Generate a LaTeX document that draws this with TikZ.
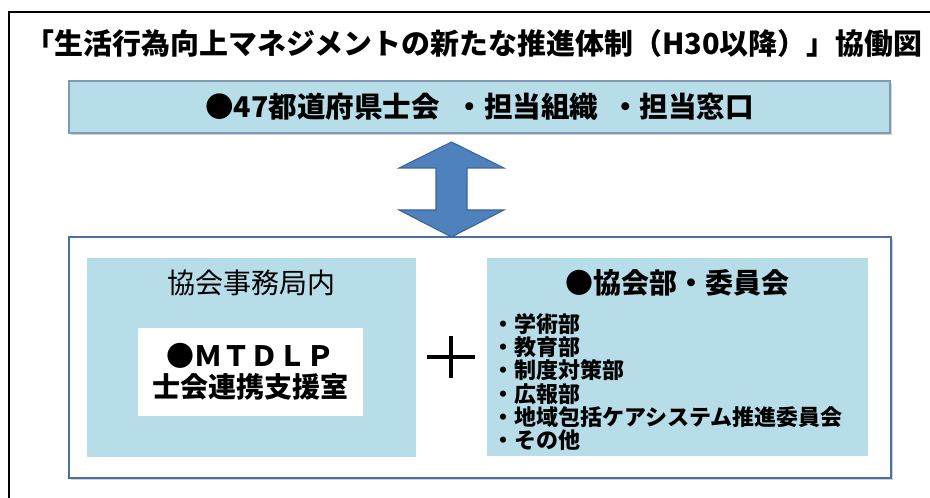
\documentclass[tikz,border=0pt]{standalone}
\usepackage{fontspec}
\newfontfamily\jp{Noto Sans CJK JP}
\usetikzlibrary{shadows}
\definecolor{paleblue}{HTML}{B7DDE8}
\definecolor{boxedge}{HTML}{7F9AB5}
\definecolor{teamedge}{HTML}{4A6FA0}
\definecolor{arrowfill}{HTML}{4F81BD}
\definecolor{arrowedge}{HTML}{3A66A0}
\tikzset{%
  boxshadow/.style = {drop shadow={opacity=0.35, shadow xshift=1.2pt, shadow yshift=-1.5pt}},%
  prefbox/.style   = {draw=boxedge, fill=paleblue, line width=0.8pt, boxshadow,%
                      inner sep=0pt, font=\jp\bfseries\fontsize{21.4}{24}\selectfont},%
  teambox/.style   = {draw=teamedge, fill=white, line width=1.5pt, boxshadow, inner sep=0pt},%
  pane/.style      = {fill=paleblue, inner sep=0pt},%
  whitepane/.style = {fill=white, inner sep=0pt, align=center,%
                      font=\jp\bfseries\fontsize{21}{23.5}\selectfont},%
  heading/.style   = {font=\jp\fontsize{21}{24}\selectfont, inner sep=0pt},%
  listing/.style   = {font=\jp\bfseries\fontsize{16.5}{17.4}\selectfont, align=left, inner sep=0pt}%
}
\begin{document}
\begin{tikzpicture}[x=0.75pt,y=-0.75pt]
  \useasboundingbox (0,0) rectangle (930,498);
  \draw [line width=1.2pt] (9,502) -- (9,12) -- (934,12);
  \node [heading, font=\jp\bfseries\fontsize{21.7}{24}\selectfont] (title) at (474,44)
    {「生活行為向上マネジメントの新たな推進体制（H30以降）」協働図};
  \node [prefbox, minimum width=615.75pt, minimum height=39pt] (pref) at (479.5,107)
    {\raisebox{-2.5pt}{●47都道府県士会\hspace{0.55em}・担当組織\hspace{0.45em}・担当窓口}};
  \node [teambox, minimum width=616.5pt, minimum height=180.75pt] (team) at (480,357.5) {};
  \node [pane, minimum width=246.75pt, minimum height=149.25pt] (office) at (251.5,357.5) {};
  \node [heading] (officetitle) at (251,283) {協会事務局内};
  \node [whitepane, minimum width=168.75pt, minimum height=66pt] (mtdlp) at (250.5,372)
    {●ＭＴＤＬＰ\\士会連携支援室};
  \node [pane, minimum width=285.75pt, minimum height=148.5pt] (dept) at (677.5,357) {};
  \node [heading, font=\jp\bfseries\fontsize{21}{24}\selectfont] (depttitle) at (677,283)
    {●協会部・委員会};
  \node [listing, anchor=west] (deptlist) at (492,382)
    {・学術部\\・教育部\\・制度対策部\\・広報部\\・地域包括ケアシステム推進委員会\\・その他};
  \coordinate (plus) at (451,357);
  \draw [line width=2.4pt] ([xshift=-18pt]plus) -- ([xshift=18pt]plus)
    ([yshift=16pt]plus) -- ([yshift=-16pt]plus);
  \draw [fill=arrowfill, draw=arrowedge, line width=0.8pt, line join=miter]
    (451.5,142) -- (504,168) -- (467,168) -- (467,210) -- (504,210) -- (451.5,237)
    -- (399,210) -- (436,210) -- (436,168) -- (399,168) -- cycle;
\end{tikzpicture}
\end{document}
